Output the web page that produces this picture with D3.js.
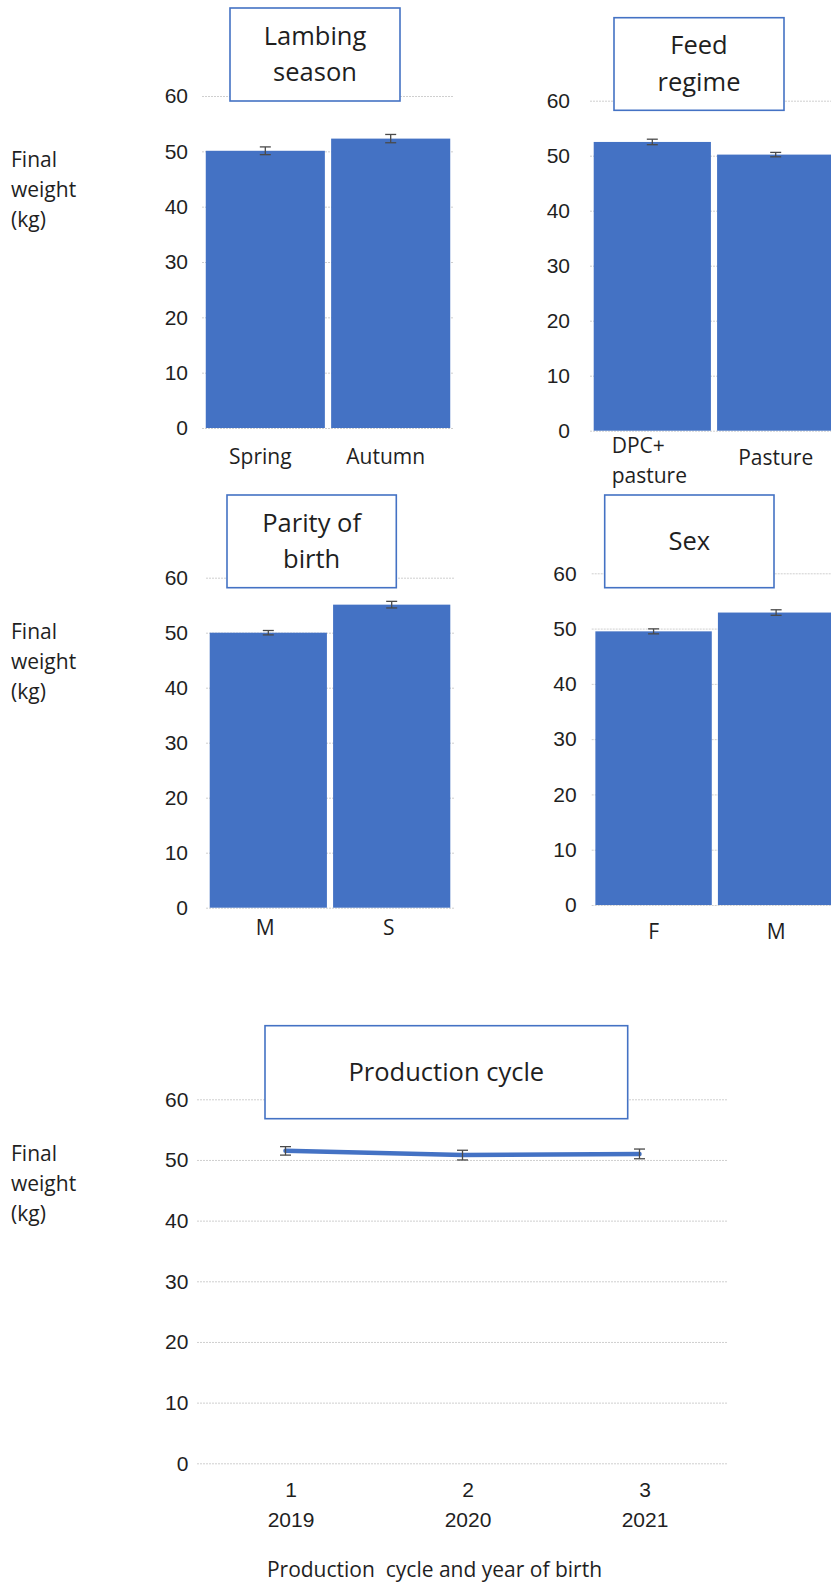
<!DOCTYPE html>
<html>
<head>
<meta charset="utf-8">
<script src="https://cdn.jsdelivr.net/npm/d3@7"></script>
<style>
  body { margin: 0; background: #fff; }
  svg { display: block; font-family: "Open Sans", "Noto Sans", sans-serif; }
</style>
</head>
<body>
<svg id="chart" width="831" height="1584"></svg>
<script>
// ---- data ----
const yTicks = [0, 10, 20, 30, 40, 50, 60];
const yLabelLines = ["Final", "weight", "(kg)"];

const seasonTitle = ["Lambing", "season"];
const seasonCategories = ["Spring", "Autumn"];
const seasonMeans = [50.1, 52.3];
const seasonErrors = [0.7, 0.75];

const feedTitle = ["Feed", "regime"];
const feedCategories = ["DPC+\npasture", "Pasture"];
const feedMeans = [52.5, 50.2];
const feedErrors = [0.5, 0.4];

const parityTitle = ["Parity of", "birth"];
const parityCategories = ["M", "S"];
const parityMeans = [50.0, 55.1];
const parityErrors = [0.4, 0.6];

const sexTitle = ["Sex"];
const sexCategories = ["F", "M"];
const sexMeans = [49.5, 52.9];
const sexErrors = [0.45, 0.5];

const cycleTitle = ["Production cycle"];
const cycleNumbers = ["1", "2", "3"];
const cycleYears = ["2019", "2020", "2021"];
const cycleMeans = [51.5, 50.8, 51.0];
const cycleErrors = [0.7, 0.8, 0.8];
const cycleAxisTitle = "Production  cycle and year of birth";

// ---- style ----
const BLUE = "#4472C4";
const TEXT = "#1f1f1f";
const GRID = "#cfcfcf";
const ERR = "#4a4a4a";
const FS = 21;
const TITLE_FS = 25.5;

const svg = d3.select("#chart");
svg.append("rect").attr("width", 831).attr("height", 1584).attr("fill", "#fff");

// ---- panel layout ----
const barPanels = [
  { title: seasonTitle, cats: seasonCategories, means: seasonMeans, errs: seasonErrors,
    xr: [202, 454], yr: [428, 96], gap: 14, box: [230, 8, 170, 93], labelDy: 35.5, labelDx: -5, yLabelBase: 166.7 },
  { title: feedTitle, cats: feedCategories, means: feedMeans, errs: feedErrors,
    xr: [590, 838], yr: [430.7, 100.7], gap: 20, box: [614, 17.7, 170, 92.6], labelDy: 34, labelDx: 0, yLabelBase: null },
  { title: parityTitle, cats: parityCategories, means: parityMeans, errs: parityErrors,
    xr: [206, 454], yr: [907.7, 577.7], gap: 18, box: [227, 495, 169.3, 92.7], labelDy: 27.3, labelDx: -3, yLabelBase: 639.3 },
  { title: sexTitle, cats: sexCategories, means: sexMeans, errs: sexErrors,
    xr: [591.7, 838], yr: [905, 573.3], gap: 15, box: [604.7, 495, 169.3, 92.7], labelDy: 34.3, labelDx: 0, yLabelBase: null }
];

function drawGrid(g, y, xr, gap) {
  const axis = d3.axisLeft(y).tickValues(yTicks).tickSize(-(xr[1] - xr[0])).tickPadding(gap);
  const ax = g.append("g").attr("transform", `translate(${xr[0]},0)`).call(axis);
  ax.select(".domain").remove();
  ax.selectAll(".tick line").attr("stroke", GRID).attr("stroke-width", 1).attr("stroke-dasharray", "2,1");
  ax.selectAll(".tick text").attr("fill", TEXT).style("font-size", FS + "px").style("font-family", "inherit");
}

function drawTitleBox(g, lines, box) {
  const [bx, by, bw, bh] = box;
  g.append("rect").attr("x", bx).attr("y", by).attr("width", bw).attr("height", bh)
    .attr("fill", "#fff").attr("stroke", BLUE).attr("stroke-width", 1.6);
  const cx = bx + bw / 2, cy = by + bh / 2;
  g.selectAll(null).data(lines).join("text")
    .attr("x", cx)
    .attr("y", (d, i) => cy + (i - (lines.length - 1) / 2) * 36.5 + 8.5)
    .attr("text-anchor", "middle").attr("fill", TEXT).style("font-size", TITLE_FS + "px")
    .text(d => d);
}

function drawYLabel(g, base) {
  g.selectAll(null).data(yLabelLines).join("text")
    .attr("x", 11).attr("y", (d, i) => base + i * 30)
    .attr("fill", TEXT).style("font-size", FS + "px")
    .text(d => d);
}

function drawErrorBars(g, xs, y, means, errs) {
  const eb = g.append("g").attr("stroke", ERR).attr("stroke-width", 1.3).attr("fill", "none");
  means.forEach((m, i) => {
    const cx = xs(i), top = y(m + errs[i]), bot = y(m - errs[i]);
    eb.append("line").attr("x1", cx).attr("x2", cx).attr("y1", top).attr("y2", bot);
    eb.append("line").attr("x1", cx - 5.5).attr("x2", cx + 5.5).attr("y1", top).attr("y2", top);
    eb.append("line").attr("x1", cx - 5.5).attr("x2", cx + 5.5).attr("y1", bot).attr("y2", bot);
  });
}

// ---- bar panels ----
barPanels.forEach(p => {
  const g = svg.append("g");
  const y = d3.scaleLinear().domain([0, 60]).range(p.yr);
  const x = d3.scaleBand().domain(d3.range(p.cats.length)).range(p.xr)
    .paddingInner(0.05).paddingOuter(0.03);

  drawGrid(g, y, p.xr, p.gap);

  g.selectAll(".bar").data(p.means).join("rect").attr("class", "bar")
    .attr("x", (d, i) => x(i)).attr("width", x.bandwidth())
    .attr("y", d => y(d)).attr("height", d => y(0) - y(d))
    .attr("fill", BLUE);

  drawErrorBars(g, i => x(i) + x.bandwidth() / 2, y, p.means, p.errs);

  // category labels (multi-line labels are left-aligned as a block)
  p.cats.forEach((c, i) => {
    const lines = c.split("\n");
    const cx = x(i) + x.bandwidth() / 2 + p.labelDx;
    const t = g.append("text").attr("fill", TEXT).style("font-size", FS + "px");
    lines.forEach((ln, j) => {
      t.append("tspan").attr("y", y(0) + p.labelDy + (j - (lines.length - 1) * 0.4) * 30).text(ln);
    });
    if (lines.length > 1) {
      const w = d3.max(t.selectAll("tspan").nodes(), n => n.getComputedTextLength());
      t.selectAll("tspan").attr("x", cx - w / 2 - 3);
    } else {
      t.attr("text-anchor", "middle").selectAll("tspan").attr("x", cx);
    }
  });

  drawTitleBox(g, p.title, p.box);
  if (p.yLabelBase !== null) drawYLabel(g, p.yLabelBase);
});

// ---- production cycle line panel ----
(function () {
  const g = svg.append("g");
  const xr = [197, 728];
  const y = d3.scaleLinear().domain([0, 60]).range([1463.3, 1099.3]);
  const x = d3.scalePoint().domain(d3.range(cycleMeans.length)).range(xr).padding(0.5);

  drawGrid(g, y, xr, 8.7);

  const line = d3.line().x((d, i) => x(i)).y(d => y(d));
  g.append("path").datum(cycleMeans).attr("d", line)
    .attr("fill", "none").attr("stroke", BLUE).attr("stroke-width", 4.5)
    .attr("stroke-linecap", "round").attr("stroke-linejoin", "round");

  drawErrorBars(g, i => x(i), y, cycleMeans, cycleErrors);

  const xAxis = d3.axisBottom(x).tickSize(0).tickFormat(() => "");
  const ax = g.append("g").attr("transform", `translate(0,${y(0)})`).call(xAxis);
  ax.select(".domain").remove();
  ax.selectAll(".tick").each(function (d) {
    const t = d3.select(this).select("text").attr("fill", TEXT)
      .style("font-size", FS + "px").style("font-family", "inherit").attr("dy", null).attr("y", 0);
    t.append("tspan").attr("x", 5).attr("y", 33.4).text(cycleNumbers[d]);
    t.append("tspan").attr("x", 5).attr("y", 63.4).text(cycleYears[d]);
  });

  g.append("text").attr("x", (xr[0] + xr[1]) / 2 - 28).attr("y", 1576.7)
    .attr("text-anchor", "middle").attr("fill", TEXT).style("font-size", FS + "px")
    .style("white-space", "pre").text(cycleAxisTitle);

  drawTitleBox(g, cycleTitle, [265, 1025.7, 362.7, 93]);
  drawYLabel(g, 1161);
})();
</script>
</body>
</html>
